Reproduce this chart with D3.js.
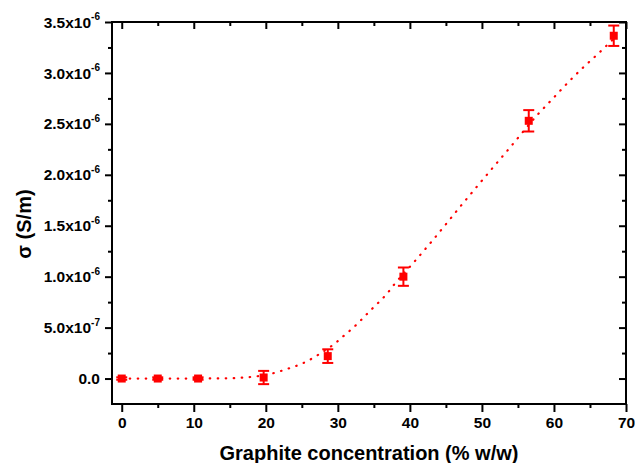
<!DOCTYPE html>
<html>
<head>
<meta charset="utf-8">
<script src="https://cdn.jsdelivr.net/npm/d3@7"></script>
<style>
  body { margin: 0; background: #fff; }
  text { font-family: "Liberation Sans", Arial, sans-serif; font-weight: bold; }
</style>
</head>
<body>
<div id="chart"></div>
<script>
// measured points
const concentration = [0, 5, 10.6, 19.7, 28.6, 39.1, 56.5, 68.3];
const sigma = [0, 0, 0, 0.01e-6, 0.22e-6, 1.0e-6, 2.53e-6, 3.365e-6];
const sigmaErr = [0.012e-6, 0.012e-6, 0.012e-6, 0.065e-6, 0.067e-6, 0.09e-6, 0.105e-6, 0.1e-6];

// fitted curve
const fitX = [0, 10, 15, 17.5, 20, 22, 23.2, 24.6, 26, 27.2, 28.4, 29.6, 30.6, 31.7, 32.8, 33.8,
              34.8, 35.9, 36.9, 37.8, 40.7, 42.7, 47.3, 51.1, 53.9, 57.6, 60, 62, 64, 66, 68.5];
const fitY = [0, 0, 0.003, 0.013, 0.035, 0.072, 0.10, 0.134, 0.18, 0.23, 0.285, 0.344, 0.406, 0.472,
              0.544, 0.616, 0.688, 0.764, 0.839, 0.921, 1.153, 1.318, 1.714, 2.035, 2.268, 2.58,
              2.76, 2.91, 3.05, 3.18, 3.35].map(v => v * 1e-6);

// ticks
const xTicks = [0, 10, 20, 30, 40, 50, 60, 70];
const xMinor = [5, 15, 25, 35, 45, 55, 65];
const yTicks = [0, 0.5e-6, 1.0e-6, 1.5e-6, 2.0e-6, 2.5e-6, 3.0e-6, 3.5e-6];
const yMinor = [0.25e-6, 0.75e-6, 1.25e-6, 1.75e-6, 2.25e-6, 2.75e-6, 3.25e-6];
const yTickMantissa = ["0.0", "5.0x10", "1.0x10", "1.5x10", "2.0x10", "2.5x10", "3.0x10", "3.5x10"];
const yTickExp = ["", "-7", "-6", "-6", "-6", "-6", "-6", "-6"];

const W = 635, H = 463;
const m = {left: 112, right: 9, top: 22, bottom: 59};
const red = "#ff0000";

const svg = d3.select("#chart").append("svg")
    .attr("width", W).attr("height", H);

const x = d3.scaleLinear().domain([-1.35, 70]).range([m.left, W - m.right]);
const y = d3.scaleLinear().domain([-0.25e-6, 3.5e-6]).range([H - m.bottom, m.top]);

// axes: bottom/left outward, top/right inward
const gBottom = svg.append("g").attr("transform", `translate(0,${H - m.bottom})`);
gBottom.call(d3.axisBottom(x).tickValues(xTicks).tickSize(8).tickPadding(5).tickFormat(d3.format("d")));
gBottom.append("g").call(d3.axisBottom(x).tickValues(xMinor).tickSize(4).tickFormat(""));

const gTop = svg.append("g").attr("transform", `translate(0,${m.top})`);
gTop.call(d3.axisBottom(x).tickValues(xTicks).tickSize(7).tickFormat(""));
gTop.append("g").call(d3.axisBottom(x).tickValues(xMinor).tickSize(4).tickFormat(""));

const gLeft = svg.append("g").attr("transform", `translate(${m.left},0)`);
gLeft.call(d3.axisLeft(y).tickValues(yTicks).tickSize(7).tickPadding(5).tickFormat(""));
gLeft.append("g").call(d3.axisLeft(y).tickValues(yMinor).tickSize(4).tickFormat(""));

const gRight = svg.append("g").attr("transform", `translate(${W - m.right},0)`);
gRight.call(d3.axisLeft(y).tickValues(yTicks).tickSize(7).tickFormat(""));
gRight.append("g").call(d3.axisLeft(y).tickValues(yMinor).tickSize(4).tickFormat(""));

svg.selectAll(".domain").remove();
svg.selectAll(".tick line").attr("stroke", "#000").attr("stroke-width", 2);
gBottom.selectAll(".tick text").attr("font-size", 15.5).attr("fill", "#000");

// frame
svg.append("rect")
    .attr("x", x.range()[0]).attr("y", m.top)
    .attr("width", x.range()[1] - x.range()[0]).attr("height", y.range()[0] - m.top)
    .attr("fill", "none").attr("stroke", "#000").attr("stroke-width", 2);

// y tick labels with superscript exponents
const yl = svg.append("g").selectAll("text")
    .data(yTicks)
    .join("text")
    .attr("x", m.left - 12)
    .attr("y", d => y(d))
    .attr("dy", "0.36em")
    .attr("text-anchor", "end")
    .attr("font-size", 15.5)
    .attr("fill", "#000");
yl.append("tspan").text((d, i) => yTickMantissa[i]);
yl.append("tspan").attr("font-size", 10).attr("dy", "-0.75em").text((d, i) => yTickExp[i]);

// fit line (dotted)
svg.append("path")
    .datum(fitX.map((d, i) => [d, fitY[i]]))
    .attr("fill", "none")
    .attr("stroke", red)
    .attr("stroke-width", 2.2)
    .attr("stroke-linecap", "round")
    .attr("stroke-dasharray", "0.5,7.5")
    .attr("d", d3.line().x(d => x(d[0])).y(d => y(d[1])).curve(d3.curveMonotoneX));

// error bars
const eb = svg.append("g").attr("stroke", red).attr("stroke-width", 2);
concentration.forEach((c, i) => {
    const cx = x(c), y1 = y(sigma[i] + sigmaErr[i]), y0 = y(sigma[i] - sigmaErr[i]);
    eb.append("line").attr("x1", cx).attr("x2", cx).attr("y1", y1).attr("y2", y0);
    eb.append("line").attr("x1", cx - 5.5).attr("x2", cx + 5.5).attr("y1", y1).attr("y2", y1);
    eb.append("line").attr("x1", cx - 5.5).attr("x2", cx + 5.5).attr("y1", y0).attr("y2", y0);
});

// square markers
svg.append("g").selectAll("rect")
    .data(concentration)
    .join("rect")
    .attr("x", d => x(d) - 4)
    .attr("y", (d, i) => y(sigma[i]) - 4)
    .attr("width", 8).attr("height", 8)
    .attr("fill", red);

// axis titles
svg.append("text")
    .attr("x", (x.range()[0] + x.range()[1]) / 2)
    .attr("y", 460)
    .attr("text-anchor", "middle")
    .attr("font-size", 20)
    .text("Graphite concentration (% w/w)");

svg.append("text")
    .attr("transform", "translate(31,224) rotate(-90)")
    .attr("text-anchor", "middle")
    .attr("font-size", 20)
    .text("σ (S/m)");
</script>
</body>
</html>
